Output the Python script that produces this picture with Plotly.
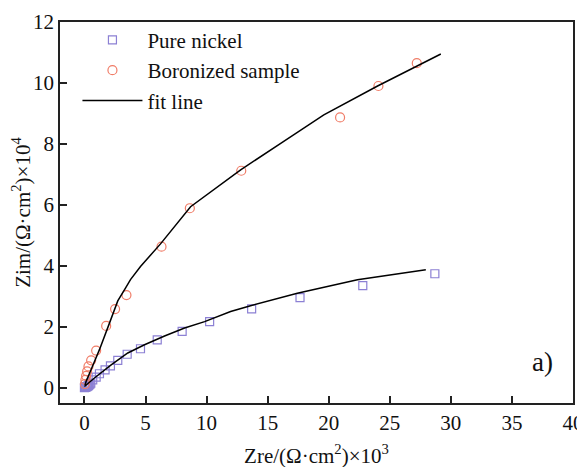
import plotly.graph_objects as go

# Pure nickel data (Zre x10^3, Zim x10^4)
nickel_x = [0.0, 0.02, 0.05, 0.09, 0.14, 0.20, 0.26, 0.32, 0.38, 0.45, 0.52, 0.68, 0.96, 1.23,
            1.69, 2.13, 2.73, 3.50, 4.59, 5.96, 8.00, 10.25, 13.69, 17.65, 22.79, 28.69]
nickel_y = [0.0, 0.01, 0.01, 0.02, 0.03, 0.04, 0.05, 0.07, 0.09, 0.12, 0.15, 0.26, 0.35, 0.46,
            0.59, 0.72, 0.90, 1.10, 1.28, 1.57, 1.85, 2.17, 2.59, 2.96, 3.35, 3.74]

# Boronized sample data
boron_x = [0.04, 0.08, 0.14, 0.22, 0.33, 0.55, 0.96, 1.78, 2.51, 3.44, 6.31, 8.63, 12.84,
           20.93, 24.07, 27.21]
boron_y = [0.12, 0.26, 0.39, 0.54, 0.70, 0.90, 1.22, 2.03, 2.58, 3.04, 4.63, 5.89, 7.12,
           8.87, 9.90, 10.65]

# Fit lines
nfit_x = [0.0, 0.82, 2.19, 3.55, 4.92, 6.56, 8.20, 9.84, 11.97, 13.60, 17.43, 22.35, 27.95]
nfit_y = [0.04, 0.32, 0.75, 1.14, 1.41, 1.70, 1.96, 2.17, 2.50, 2.69, 3.10, 3.54, 3.87]

bfit_x = [0.05, 0.14, 0.55, 1.23, 2.05, 2.73, 3.36, 3.77, 4.59, 5.82, 6.23, 8.69, 12.79,
          16.07, 19.60, 24.00, 29.18]
bfit_y = [0.08, 0.21, 0.60, 1.25, 2.12, 2.85, 3.27, 3.55, 3.98, 4.52, 4.72, 5.94, 7.15,
          8.02, 8.95, 9.90, 10.95]

x_ticks = [0, 5, 10, 15, 20, 25, 30, 35, 40]
y_ticks = [0, 2, 4, 6, 8, 10, 12]

FONT = "Times New Roman, Liberation Serif, serif"
fig = go.Figure()
fig.add_trace(go.Scatter(x=nickel_x, y=nickel_y, mode="markers", name="Pure nickel",
                         marker=dict(symbol="square-open", size=8, color="#8C80D4",
                                     line=dict(width=1.2))))
fig.add_trace(go.Scatter(x=boron_x, y=boron_y, mode="markers", name="Boronized sample",
                         marker=dict(symbol="circle-open", size=9, color="#F07D68",
                                     line=dict(width=1.2))))
fig.add_trace(go.Scatter(x=bfit_x, y=bfit_y, mode="lines", name="fit line",
                         line=dict(color="black", width=1.5)))
fig.add_trace(go.Scatter(x=nfit_x, y=nfit_y, mode="lines", name="fit line",
                         showlegend=False, line=dict(color="black", width=1.5)))

axis_common = dict(showgrid=False, zeroline=False, showline=True, linecolor="#222",
                   linewidth=1.5, mirror=True, ticks="inside", ticklen=7, tickwidth=1.5,
                   tickcolor="#222", automargin=False,
                   tickfont=dict(family=FONT, size=21, color="#111"))
fig.update_xaxes(range=[-2, 40], tickvals=x_ticks,
                 title=dict(text="Zre/(Ω·cm<sup>2</sup>)×10<sup>3</sup>",
                            font=dict(family=FONT, size=21, color="#111"), standoff=14),
                 **axis_common)
fig.update_yaxes(range=[-0.5, 12], tickvals=y_ticks,
                 title=dict(text="Zim/(Ω·cm<sup>2</sup>)×10<sup>4</sup>",
                            font=dict(family=FONT, size=21, color="#111"), standoff=1),
                 **axis_common)
fig.add_annotation(x=0.965, y=0.062, xref="paper", yref="paper", text="a)", showarrow=False,
                   font=dict(family=FONT, size=27, color="#111"))
fig.update_layout(width=585, height=467, margin=dict(l=52, r=20, t=14, b=72),
                  paper_bgcolor="white", plot_bgcolor="white",
                  legend=dict(x=0.034, y=1.006, xanchor="left", yanchor="top",
                              bgcolor="rgba(0,0,0,0)", itemwidth=60,
                              font=dict(family=FONT, size=21, color="#111")))
fig.write_html("out.html")
